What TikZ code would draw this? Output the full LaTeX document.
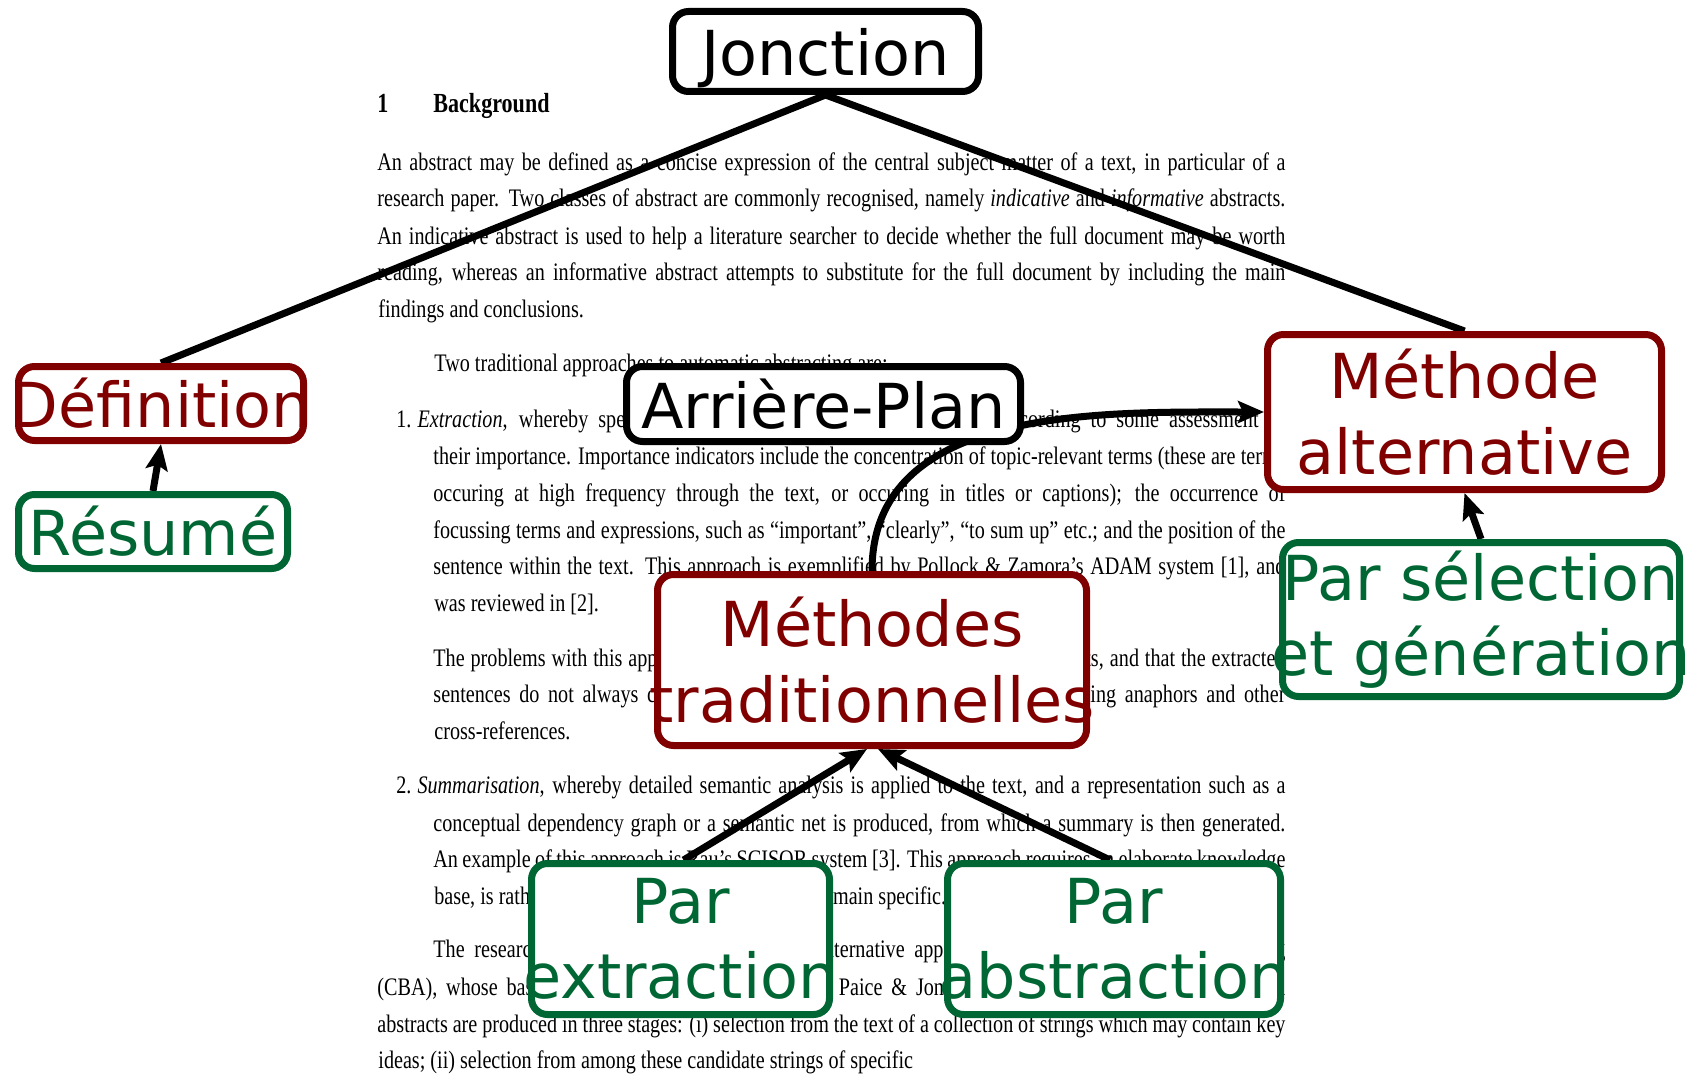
\documentclass[tikz,border=0pt]{standalone}
\usepackage{fontspec}
\usetikzlibrary{arrows.meta}
\newfontfamily\boxfont{DejaVu Sans}
\newfontfamily\pagefont[FakeStretch=0.8]{Liberation Serif}
\definecolor{boxred}{RGB}{128,0,0}
\definecolor{boxgreen}{RGB}{0,102,51}
\pgfdeclarelayer{pagetext}
\pgfdeclarelayer{links}
\pgfsetlayers{pagetext,links,main}
\newcommand{\ctr}[1]{\makebox[0pt]{#1}}

\begin{document}
\begin{tikzpicture}[x=0.5pt, y=-0.5pt,
    pageline/.style = {anchor=base west, inner sep=0pt, text=black,
        font=\pagefont\fontsize{12.6pt}{15pt}\selectfont},
    lbl/.style = {draw, rounded corners=8pt, line width=3.5pt, fill=white,
        inner sep=0pt, align=center, font=\boxfont\fontsize{31pt}{37.7pt}\selectfont},
    blacklbl/.style = {lbl, draw=black, text=black},
    redlbl/.style = {lbl, draw=boxred, text=boxred},
    greenlbl/.style = {lbl, draw=boxgreen, text=boxgreen},
    tie/.style = {line width=3.5pt, black},
    feed/.style = {tie, -{Stealth[length=13pt, width=11pt, inset=2.5pt]}}]
\useasboundingbox (0,0) rectangle (1689,1075);

% page of the paper behind the diagram
\begin{pgfonlayer}{pagetext}
\node[pageline, font=\pagefont\bfseries\fontsize{13.8pt}{16pt}\selectfont] (secnum) at (377,113) {1};
\node[pageline, font=\pagefont\bfseries\fontsize{13.8pt}{16pt}\selectfont] (sectitle) at (433,113) {Background};
\foreach \xx/\yy/\ww/\al/\tx [count=\k] in {
    377/170.7/454/s/{An abstract may be defined as a concise expression of the central subject matter of a text, in particular of a},
    377/206.3/454/s/{research paper. Two classes of abstract are commonly recognised, namely \textit{indicative} and \textit{informative} abstracts.},
    377/244/454/s/{An indicative abstract is used to help a literature searcher to decide whether the full document may be worth},
    377/280.6/454/s/{reading, whereas an informative abstract attempts to substitute for the full document by including the main},
    377/317.2/0/l/{findings and conclusions.},
    433/371/0/l/{Two traditional approaches to automatic abstracting are:},
    396/427/444.5/s/{1.\hspace{3pt}\textit{Extraction}, whereby specific sentences are extracted from the text according to some assessment of},
    433/464.8/426/s/{their importance. Importance indicators include the concentration of topic-relevant terms (these are terms},
    433/501.4/426/s/{occuring at high frequency through the text, or occuring in titles or captions); the occurrence of},
    433/538/426/s/{focussing terms and expressions, such as “important”, “clearly”, “to sum up” etc.; and the position of the},
    433/574.7/426/s/{sentence within the text. This approach is exemplified by Pollock \& Zamora’s ADAM system [1], and},
    433/611.3/0/l/{was reviewed in [2].},
    433/666.2/426/s/{The problems with this approach are that the abstracts may omit important points, and that the extracted},
    433/702.9/426/s/{sentences do not always cohere as a text, since they may well contain dangling anaphors and other},
    433/739.5/0/l/{cross-references.},
    396/793.4/444.5/s/{2.\hspace{3pt}\textit{Summarisation}, whereby detailed semantic analysis is applied to the text, and a representation such as a},
    433/831/426/s/{conceptual dependency graph or a semantic net is produced, from which a summary is then generated.},
    433/867.7/426/s/{An example of this approach is Rau’s SCISOR system [3]. This approach requires an elaborate knowledge},
    433/904.3/0/l/{base, is rather costly to construct and is highly domain specific.},
    433/957/426/s/{The research reported in this paper uses an alternative approach, called Content-Based Abstracting},
    377/995.9/454/s/{(CBA), whose basic principles were first outlined by Paice \& Jones [4]. In the CBA approach, the final},
    377/1032.5/454/s/{abstracts are produced in three stages: (i) selection from the text of a collection of strings which may contain key},
    377/1068/0/l/{ideas; (ii) selection from among these candidate strings of specific}}
  \node[pageline] (line\k) at (\xx,\yy) {\makebox[\ww pt][\al]{\tx}};
\end{pgfonlayer}

% boxes
\node[blacklbl, minimum width=153pt, minimum height=40pt, text depth=0pt] (jonction) at (825.5,51.5) {\ctr{Jonction}};
\node[redlbl, minimum width=142.5pt, minimum height=37pt] (definition) at (161,403.5) {\ctr{Définition}};
\node[greenlbl, minimum width=134.5pt, minimum height=37pt] (resume) at (153,531.5) {\ctr{Résumé}};
\node[blacklbl, minimum width=197pt, minimum height=37.5pt] (arriere) at (823.5,404) {\ctr{Arrière-Plan}};
\node[redlbl, minimum width=197pt, minimum height=77.5pt] (methalt) at (1464.5,412) {\ctr{Méthode}\\\ctr{alternative}};
\node[greenlbl, minimum width=198.5pt, minimum height=77pt] (selgen) at (1481,619.5) {\ctr{Par sélection}\\\ctr{et génération}};
\node[redlbl, minimum width=214.5pt, minimum height=85.5pt] (methtrad) at (872,660) {\ctr{Méthodes}\\\ctr{traditionnelles}};
\node[greenlbl, minimum width=149pt, minimum height=75.5pt] (parext) at (680.5,939) {\ctr{Par}\\\ctr{extraction}};
\node[greenlbl, minimum width=166.5pt, minimum height=75.5pt] (parabs) at (1114,939) {\ctr{Par}\\\ctr{abstraction}};

% connectors
\begin{pgfonlayer}{links}
\draw[tie] (jonction.south) -- (definition.north);
\draw[tie] (jonction.south) -- (methalt.north);
\draw[feed] (resume.north) -- (definition.south);
\draw[feed] (selgen.north) -- (methalt.south);
\draw[feed] (methtrad.north) to[out=90, in=180] (methalt.west);
\draw[feed] ([xshift=1.5pt]parext.north) -- ([xshift=-2.5pt]methtrad.south);
\draw[feed] ([xshift=-2pt]parabs.north) -- ([xshift=3pt]methtrad.south);
\end{pgfonlayer}
\end{tikzpicture}
\end{document}
